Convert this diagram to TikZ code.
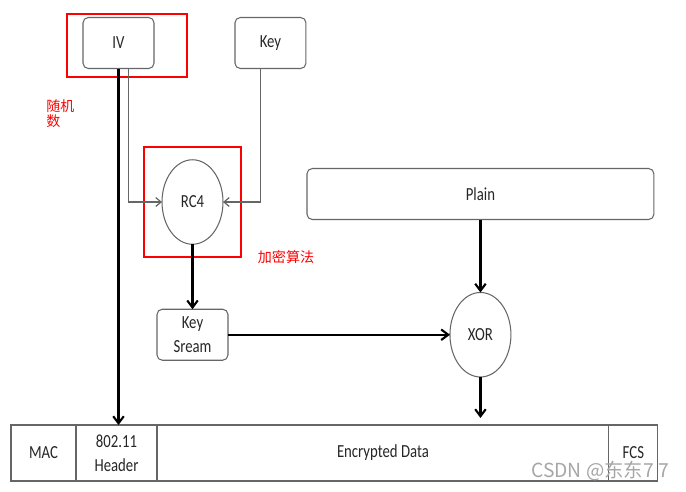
\documentclass[tikz,border=0pt]{standalone}
\usepackage{fontspec}
\setmainfont{Carlito}[FakeStretch=0.8]
\newfontfamily\cjkfont{Noto Sans CJK SC}
\usetikzlibrary{calc,positioning,arrows.meta,shapes.geometric}

\begin{document}
\begin{tikzpicture}[%
      x=0.02cm, y=-0.02cm,            % one unit per pixel of the layout
      >={Straight Barb[length=4pt,width=6pt]},
      font=\fontsize{10.5}{13.6}\selectfont,
      ]
  \tikzset{
    base/.style={draw=black!60, line width=0.6pt, align=center, text=black!85, inner sep=0pt, outer sep=0pt},
    proc/.style={base, rectangle, rounded corners=3pt, minimum width=1.42cm, minimum height=1.02cm},
    algo/.style={base, ellipse, minimum width=1.22cm, minimum height=1.69cm},
    cell/.style={base, rectangle, minimum height=1.12cm},
    norm/.style={->, draw, line width=1.2pt},
    thin/.style={->, draw, black!60, line width=0.7pt, >={Straight Barb[length=3pt,width=5pt]}},
    hilite/.style={draw, red, line width=1pt},
    note/.style={text=red, font=\cjkfont\fontsize{8}{8.6}\selectfont, inner sep=0pt, align=left},
  }
  \useasboundingbox (0,0) rectangle (686,491);

  % Define the sources at the top
  \node [proc]                    (iv)    at (118.5,43) {IV};
  \node [proc, right=1.62cm of iv] (key)  {Key};

  % Define the cipher chain
  \node [algo]                    (rc4)   at (192.5,202) {RC4};
  \node [proc, below=1.3cm of rc4] (ks)   {Key\\Sream};
  \node [algo, right=4.44cm of ks] (xor)  {XOR};
  \node [proc, minimum width=6.94cm, above=1.46cm of xor] (plain) {Plain};

  % Frame at the bottom
  \node [cell, minimum width=1.30cm]          (mac) at (43.5,453) {MAC};
  \node [cell, minimum width=1.62cm, right=0pt of mac] (hdr) {802.11\\Header};
  \node [cell, minimum width=9.04cm, right=0pt of hdr] (enc) {Encrypted Data};
  \node [cell, minimum width=0.98cm, right=0pt of enc] (fcs) {FCS};
  \coordinate (out) at (480,418);

  % Notes
  \draw [hilite] (67,14) rectangle (187,77);
  \draw [hilite] (144,147) rectangle (241,257);
  \node [note, anchor=west] (n1) at (46,114) {随机\\数};
  \node [note] (n2) at (286,257) {加密算法};

  % Key and IV into RC4
  \draw [thin] ($(iv.south)+(10,0)$) |- (rc4.west);
  \draw [thin] ($(key.south)+(-10,0)$) |- (rc4.east);

  % Data path
  \draw [norm] (iv.south) -- (iv.south |- hdr.north);
  \draw [norm] (rc4) -- (ks);
  \draw [norm] (ks) -- (xor);
  \draw [norm] (plain) -- (xor);
  \draw [norm] (xor.south) -- (xor.south |- out);

  % Watermark
  \node [text=black!35, font=\cjkfont\fontsize{11}{12}\selectfont, inner sep=0pt] (wm) at (600,471) {CSDN @东东7 7};
\end{tikzpicture}
\end{document}
